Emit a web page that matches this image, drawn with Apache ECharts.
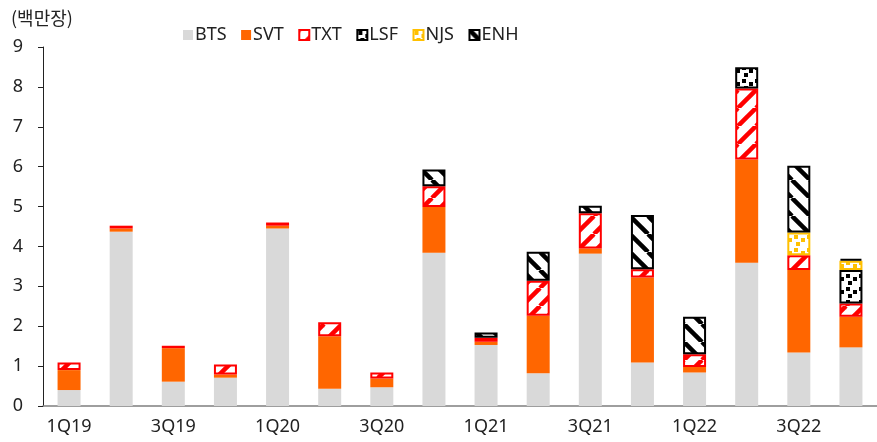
<!DOCTYPE html>
<html>
<head>
<meta charset="utf-8">
<script src="https://cdn.jsdelivr.net/npm/echarts@6/dist/echarts.min.js"></script>
<style>
  html, body { margin: 0; padding: 0; background: #fff; }
  #chart { width: 877px; height: 442px; }
</style>
</head>
<body>
<div id="chart"></div>
<script>
// 분기별 앨범 판매량 (백만장)
var categories = ['1Q19','2Q19','3Q19','4Q19','1Q20','2Q20','3Q20','4Q20','1Q21','2Q21','3Q21','4Q21','1Q22','2Q22','3Q22','4Q22'];
var bts = [0.40, 4.37, 0.61, 0.71, 4.45, 0.43, 0.47, 3.84, 1.53, 0.82, 3.82, 1.09, 0.84, 3.59, 1.34, 1.47];
var svt = [0.50, 0.08, 0.84, 0.08, 0.07, 1.32, 0.22, 1.15, 0.08, 1.44, 0.13, 2.13, 0.14, 2.59, 2.07, 0.77];
var txt = [0.19, 0.07, 0.06, 0.25, 0.08, 0.35, 0.15, 0.52, 0.10, 0.88, 0.88, 0.21, 0.32, 1.78, 0.37, 0.33];
var lsf = [null, null, null, null, null, null, null, null, null, null, null, null, null, 0.53, null, 0.84];
var njs = [null, null, null, null, null, null, null, null, null, null, null, null, null, null, 0.57, 0.23];
var enh = [null, null, null, null, null, null, null, 0.42, 0.13, 0.73, 0.19, 1.36, 0.94, null, 1.67, 0.05];
var yTicks = [0, 1, 2, 3, 4, 5, 6, 7, 8, 9];

// 빗금 패턴 (dir 1 = '/', -1 = '\')
function stripe(color, dir) {
  var s = 18;
  var c = document.createElement('canvas');
  c.width = s; c.height = s;
  var ctx = c.getContext('2d');
  ctx.fillStyle = '#fff';
  ctx.fillRect(0, 0, s, s);
  ctx.strokeStyle = color;
  ctx.lineWidth = 4.5;
  for (var k = -1; k <= 1; k++) {
    ctx.beginPath();
    if (dir > 0) {
      ctx.moveTo(k * s, s);
      ctx.lineTo(k * s + s, 0);
    } else {
      ctx.moveTo(k * s, 0);
      ctx.lineTo(k * s + s, s);
    }
    ctx.stroke();
  }
  return { image: c, repeat: 'repeat' };
}

// 점 패턴
function dots(color) {
  var s = 13;
  var c = document.createElement('canvas');
  c.width = s; c.height = s;
  var ctx = c.getContext('2d');
  ctx.fillStyle = '#fff';
  ctx.fillRect(0, 0, s, s);
  ctx.fillStyle = color;
  ctx.fillRect(1, 1, 4, 4);
  ctx.fillRect(8, 4, 4, 4);
  ctx.fillRect(3, 8, 4, 4);
  return { image: c, repeat: 'repeat' };
}

var BAR_W = 23;
function bar(name, data, itemStyle) {
  return {
    name: name,
    type: 'bar',
    stack: 'total',
    barWidth: BAR_W,
    data: data,
    itemStyle: itemStyle
  };
}

var myChart = echarts.init(document.getElementById('chart'));
var font = '"Noto Sans", "Noto Sans CJK KR", sans-serif';

myChart.setOption({
  animation: false,
  textStyle: { fontFamily: font },
  title: {
    text: '(백만장)',
    left: 6,
    top: 4,
    textStyle: { fontFamily: '"Noto Sans CJK KR", sans-serif', fontSize: 18, fontWeight: 'normal', color: '#222' }
  },
  legend: {
    left: 178,
    top: 21,
    itemWidth: 10,
    itemHeight: 10,
    itemGap: 14.5,
    icon: 'rect',
    textStyle: { fontSize: 18, color: '#222', padding: [0, 0, 0, -3] },
    data: ['BTS', 'SVT', 'TXT', 'LSF', 'NJS', 'ENH']
  },
  grid: { left: 43, top: 47, width: 835, bottom: 36 },
  xAxis: {
    type: 'category',
    data: categories,
    axisLine: { lineStyle: { color: '#7f7f7f', width: 1.5 } },
    axisTick: { interval: 0, length: 5, lineStyle: { color: '#555' } },
    axisLabel: { interval: 1, fontSize: 18, color: '#222', margin: 12 }
  },
  yAxis: {
    type: 'value',
    min: yTicks[0],
    max: yTicks[yTicks.length - 1],
    interval: 1,
    axisLine: { show: true, lineStyle: { color: '#222', width: 1 } },
    axisTick: { show: true, length: 5, lineStyle: { color: '#222' } },
    axisLabel: { fontSize: 18, color: '#222', margin: 20 },
    splitLine: { show: false }
  },
  series: [
    bar('BTS', bts, { color: '#d9d9d9' }),
    bar('SVT', svt, { color: '#ff6600' }),
    bar('TXT', txt, { color: stripe('#ff0000', 1), borderColor: '#ff0000', borderWidth: 2 }),
    bar('LSF', lsf, { color: dots('#000'), borderColor: '#000', borderWidth: 2 }),
    bar('NJS', njs, { color: dots('#ffc000'), borderColor: '#ffc000', borderWidth: 2 }),
    bar('ENH', enh, { color: stripe('#000', -1), borderColor: '#000', borderWidth: 2 })
  ]
});
</script>
</body>
</html>
